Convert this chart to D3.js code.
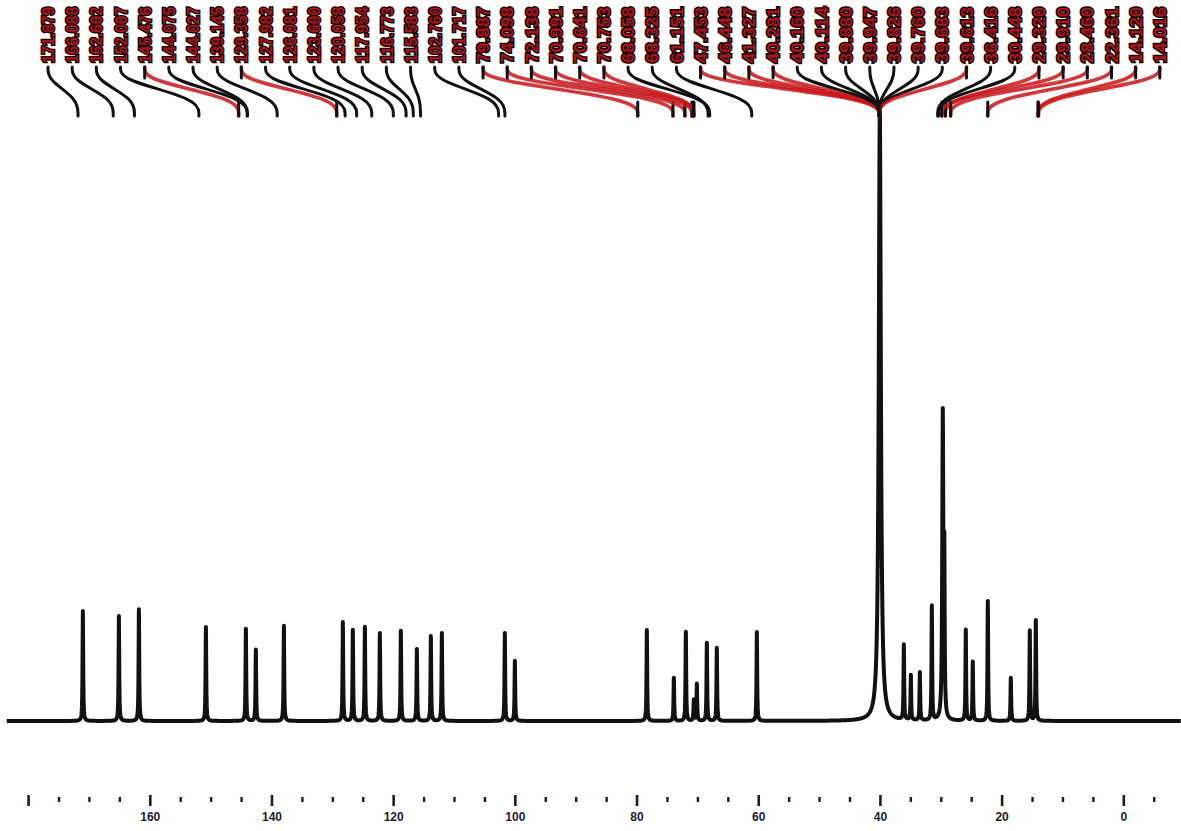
<!DOCTYPE html>
<html>
<head>
<meta charset="utf-8">
<script src="https://cdn.jsdelivr.net/npm/d3@7"></script>
<style>
  body { margin: 0; background: #fff; }
  svg { display: block; }
</style>
</head>
<body>
<svg id="chart"></svg>
<script>
const WIDTH = 1181, HEIGHT = 831;

// peak positions (ppm) and heights (solvent = 100)
const shifts = [171.08, 165.16, 161.87, 150.86, 144.29, 142.65, 138.04, 128.35, 126.71, 124.73,
                122.27, 118.82, 116.19, 113.89, 112.08, 101.73, 100.08, 78.39, 73.95, 71.98,
                70.67, 70.17, 68.53, 66.89, 60.31, 40.10, 36.15, 35.00, 33.52, 31.55,
                29.75, 29.50, 25.97, 24.82, 22.35, 18.57, 15.45, 14.46];
const heights = [17.9, 17.1, 18.2, 15.3, 15.0, 11.6, 15.5, 16.1, 14.8, 15.3,
                 14.3, 14.7, 11.7, 13.8, 14.3, 14.3, 9.8, 14.8, 7.0, 14.5,
                 3.4, 6.0, 12.7, 11.9, 14.5, 100, 12.2, 7.3, 7.8, 18.6,
                 49.6, 24.0, 14.8, 9.6, 19.5, 7.0, 14.7, 16.4];
// half widths (ppm): the solvent multiplet is broader than the rest
const widths = shifts.map(s => s === 40.10 ? 0.2 : (s === 29.75 ? 0.1 : 0.06));

// peak-pick labels along the top and the shift each leader line points to
const peakLabels = ['171.879', '166.088', '162.602', '152.007', '145.476', '144.075', '144.027', '139.145',
                    '129.358', '127.982', '126.081', '123.600', '120.058', '117.954', '116.773', '115.583',
                    '102.760', '101.717', '79.887', '74.098', '72.138', '70.991', '70.641', '70.753',
                    '68.058', '68.325', '61.151', '47.453', '46.448', '41.327', '40.281', '40.160',
                    '40.114', '39.880', '39.947', '39.826', '39.760', '39.683', '39.613', '36.416',
                    '30.448', '29.320', '29.910', '28.460', '22.361', '14.120', '14.016'];
const labelTargets = [171.879, 166.088, 162.602, 152.007, 145.476, 144.075, 144.027, 139.145,
                      129.358, 127.982, 126.081, 123.600, 120.058, 117.954, 116.773, 115.583,
                      102.760, 101.717, 79.887, 74.098, 72.138, 70.991, 70.641, 70.753,
                      68.058, 68.325, 61.151, 40.2, 40.2, 40.2, 40.2, 40.2,
                      40.2, 40.2, 40.2, 40.2, 40.2, 40.2, 40.2, 30.6,
                      30.448, 29.320, 29.910, 28.460, 22.361, 14.120, 14.016];

const majorTicks = [180, 160, 140, 120, 100, 80, 60, 40, 20, 0];
const tickLabels = ['', '160', '140', '120', '100', '80', '60', '40', '20', '0'];
const minorTicks = d3.range(175, -9, -5).filter(v => v % 20 !== 0);

const BASE_Y = 721;
const x = d3.scaleLinear().domain([184.7, -9.4]).range([0, WIDTH]);
const y = d3.scaleLinear().domain([0, 100]).range([BASE_Y, 107]);

const svg = d3.select('#chart').attr('width', WIDTH).attr('height', HEIGHT);

/* spectrum: sum of narrow lorentzians, sampled finely plus exactly at each centre */
function intensityAt(ppm) {
    let s = 0;
    for (let i = 0; i < shifts.length; i++) {
        const d = ppm - shifts[i], w = widths[i];
        s += heights[i] * w * w / (d * d + w * w);
    }
    return s;
}
let samples = d3.range(183.6, -9.4, -0.04).concat(shifts);
samples.sort((a, b) => b - a);

svg.append('path')
    .datum(samples)
    .attr('fill', 'none')
    .attr('stroke', '#111')
    .attr('stroke-width', 4)
    .attr('stroke-linejoin', 'round')
    .attr('d', d3.line().x(p => x(p)).y(p => y(intensityAt(p))));

/* bottom axis: dotted minor ticks, short major ticks, bold labels */
const axisG = svg.append('g').attr('class', 'axis');
axisG.selectAll('line.minor').data(minorTicks).join('line')
    .attr('class', 'minor')
    .attr('x1', d => x(d)).attr('x2', d => x(d))
    .attr('y1', 797).attr('y2', 802)
    .attr('stroke', '#1c1c30').attr('stroke-width', 2.4);
axisG.selectAll('line.major').data(majorTicks).join('line')
    .attr('class', 'major')
    .attr('x1', d => x(d)).attr('x2', d => x(d))
    .attr('y1', 795).attr('y2', 806)
    .attr('stroke', '#1c1c30').attr('stroke-width', 2.6);
axisG.selectAll('text').data(majorTicks).join('text')
    .attr('x', d => x(d))
    .attr('y', 821)
    .attr('text-anchor', 'middle')
    .attr('font-family', 'Liberation Sans, Arial, sans-serif')
    .attr('font-weight', 'bold')
    .attr('font-size', 12)
    .attr('fill', '#1c1c30')
    .text((d, i) => tickLabels[i]);

/* peak labels and leader lines */
const labelX = i => 48 + i * 24.17;
const TOP = 67, KNEE1 = 80, KNEE2 = 99, BOTTOM = 116;
const leader = d3.line().curve(d3.curveBasis);

const leaders = svg.append('g').attr('class', 'leaders').attr('fill', 'none');
peakLabels.forEach((lab, i) => {
    const lx = labelX(i), tx = x(labelTargets[i]);
    const long = Math.abs(tx - lx) > 85;
    const pts = [[lx, TOP], [lx, TOP], [lx, KNEE1], [tx, KNEE2], [tx, BOTTOM], [tx, BOTTOM]];
    leaders.append('path')
        .attr('d', leader(pts))
        .attr('stroke', long ? '#c8161a' : '#111')
        .attr('stroke-width', long ? 3.6 : 3)
        .attr('stroke-linecap', 'round')
        .attr('opacity', long ? 0.85 : 1);
    if (long) {
        leaders.append('line')
            .attr('x1', lx).attr('x2', lx).attr('y1', TOP).attr('y2', KNEE1 - 2)
            .attr('stroke', '#111').attr('stroke-width', 3).attr('stroke-linecap', 'round');
        leaders.append('line')
            .attr('x1', tx).attr('x2', tx).attr('y1', KNEE2 + 3).attr('y2', BOTTOM)
            .attr('stroke', '#111').attr('stroke-width', 3).attr('stroke-linecap', 'round');
    }
});

svg.append('g').attr('class', 'labels')
    .selectAll('text').data(peakLabels).join('text')
    .attr('transform', (d, i) => `translate(${labelX(i)},63) rotate(-90)`)
    .attr('dy', '0.36em')
    .attr('font-family', 'Liberation Sans, Arial, sans-serif')
    .attr('font-weight', 'bold')
    .attr('font-size', 17)
    .attr('textLength', 56)
    .attr('lengthAdjust', 'spacingAndGlyphs')
    .attr('fill', '#a8141a')
    .attr('stroke', '#140404')
    .attr('stroke-width', 2.8)
    .attr('paint-order', 'stroke')
    .text(d => d);
</script>
</body>
</html>
